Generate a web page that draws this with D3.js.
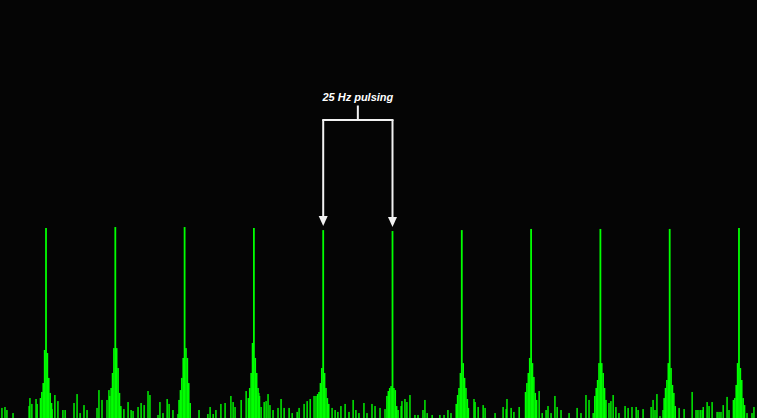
<!DOCTYPE html>
<html>
<head>
<meta charset="utf-8">
<script src="https://cdn.jsdelivr.net/npm/d3@7"></script>
<style>
  html, body { margin: 0; padding: 0; background: #050505; }
  svg { display: block; }
</style>
</head>
<body>
<div id="chart"></div>
<script>
// ---------------- DATA ----------------
// Frequency range shown (Hz)
const freqRange = [8.4, 281.5];
// Harmonics of the 25 Hz pulsing (Hz) and their relative amplitude (%)
const harmonicHz  = [25, 50, 75, 100, 125, 150, 175, 200, 225, 250, 275];
const harmonicAmp = [100, 100.5, 100.5, 100, 98.9, 98.4, 98.9, 99.5, 99.5, 99.5, 100];
// Side-band offsets around each harmonic (Hz) and their amplitudes (%)
const sidebandOffsetHz = [-2, -1.5, -1, -0.5, 0.5, 1, 1.5, 2];
const sidebandAmp = [
  [10.5, 13.7, 18.4, 35.8, 34.2, 21.1, 13.2, 7.9],
  [11.6, 15.8, 23.7, 36.8, 36.8, 26.3, 13.2, 6.3],
  [9.5, 14.7, 21.1, 31.6, 36.8, 31.6, 18.4, 7.9],
  [10.5, 15.8, 23.7, 39.5, 31.6, 23.7, 15.8, 11.6],
  [12.6, 13.7, 18.4, 26.3, 23.7, 15.8, 10.5, 7.4],
  [11.6, 14.2, 15.8, 16.8, 15.8, 14.7, 6.3, 4.2],
  [7.4, 12.1, 15.8, 23.7, 28.9, 21.1, 15.8, 10],
  [13.7, 18.4, 23.7, 31.6, 28.9, 21.6, 13.2, 9.5],
  [11.6, 15.8, 20, 28.9, 28.9, 23.7, 15.8, 9.5],
  [10.5, 15.8, 20, 28.9, 26.3, 17.4, 13.2, 6.3],
  [9.5, 10.5, 17.4, 28.9, 26.3, 20, 10.5, 6.8]
];
// Background noise floor components (Hz) and amplitudes (%)
const noiseHz = [
  9.1, 10.2, 10.9, 13.1, 18.9, 19.2, 19.9, 21.4, 21.8, 27.2, 28.2, 29.3, 31.1, 31.9,
  35.1, 36.2, 37.3, 38.7, 39.8, 43.4, 44.1, 45.2, 47.0, 47.7, 51.7, 53.1,
  54.6, 55.7, 56.4, 58.2, 59.3, 60.4, 61.8, 62.5, 65.4, 66.1, 67.2, 68.7, 69.4, 70.8, 72.6,
  80.2, 83.4, 84.2, 85.3, 86.3, 88.1, 89.6, 91.7, 92.5, 93.2, 95.4, 97.2, 98.2,
  101.8, 102.6, 103.7, 104.4, 105.1, 105.8, 106.9, 108.7, 109.8, 110.9, 112.7, 113.8,
  115.6, 116.3, 118.1, 119.2, 120.3, 121.7, 122.4, 128.2, 129.3, 130.3, 131.4, 132.9,
  134.3, 135.8, 136.8, 137.9, 139.7, 140.8, 142.6, 143.7,
  145.5, 147.3, 153.1, 153.4, 154.5, 155.2, 156.3, 158.1, 159.2, 161.0, 161.7, 162.5,
  164.3, 167.1, 168.6, 170.0, 171.1, 177.4, 179.4, 179.8, 180.9, 182.7, 183.4, 187.0, 189.9,
  191.0, 191.3, 192.8, 193.8, 195.7, 202.9, 204.0, 205.4, 206.1, 207.2, 208.6, 209.4,
  210.8, 213.7, 216.6, 218.0, 219.8, 220.9, 222.4, 228.1, 228.8, 229.6, 230.6, 231.7,
  233.9, 235.0, 236.4, 237.9, 238.6, 240.4, 243.3, 244.0, 244.7, 245.4, 246.5, 247.6,
  253.4, 255.2, 258.1, 259.5, 260.2, 261.0, 261.7, 262.1, 263.5, 264.2, 265.3, 267.1,
  267.8, 268.5, 269.3, 270.7, 271.4, 277.9, 279.7, 280.4
];
const noiseAmp = [
  5.3, 5.8, 4.2, 2.6, 6.3, 10.5, 7.4, 10, 7.4, 4.7, 12.1, 8.9, 4.2, 4.2,
  7.9, 12.6, 2.6, 6.8, 4.2, 5.3, 14.7, 9.5, 9.5, 14.7, 1.0, 4.7,
  8.4, 4.2, 3.7, 5.8, 7.9, 6.8, 14.2, 12.1, 1.6, 8.4, 2.6, 10, 7.4, 4.2, 2.1,
  4.2, 2.1, 5.8, 2.1, 4.2, 7.4, 7.9, 11.6, 8.4, 5.8, 9.5, 14.2, 7.4,
  13.2, 5.8, 8.4, 8.9, 12.6, 6.8, 4.2, 5.3, 10, 5.3, 5.3, 2.6,
  3.2, 5.3, 7.4, 8.9, 10, 11.6, 11.6, 5.3, 4.2, 3.2, 6.3, 7.4,
  3.2, 9.5, 4.2, 2.6, 7.9, 2.6, 7.4, 6.3,
  5.3, 4.7, 6.3, 8.9, 10, 8.4, 12.1, 1.6, 1.6, 4.2, 9.5, 2.6,
  1.6, 1.6, 1.6, 4.2, 2.6, 5.3, 10, 8.4, 5.8, 6.8, 5.3, 2.6, 5.8,
  4.7, 10, 5.3, 3.2, 5.8, 14.2, 2.6, 4.2, 6.3, 2.6, 11.6, 5.8,
  4.2, 2.6, 5.3, 2.6, 12.1, 9.5, 2.6, 7.9, 8.9, 12.1, 5.8, 2.6,
  6.3, 5.3, 5.8, 5.8, 4.2, 4.7, 5.8, 9.5, 4.2, 12.6, 1.0, 4.2,
  5.3, 4.7, 13.7, 4.2, 4.2, 4.2, 4.2, 5.8, 8.4, 6.3, 8.4, 3.2,
  3.2, 3.2, 6.8, 11.1, 4.2, 2.6, 2.6, 5.8
];
// Annotation
const annotationText = "25 Hz pulsing";
const annotatedHarmonics = [125, 150];

// ---------------- CHART ----------------
const W = 757, H = 418;
const svg = d3.select("#chart").append("svg")
  .attr("width", W).attr("height", H);

svg.append("rect").attr("width", W).attr("height", H).attr("fill", "#050505");

const x = d3.scaleLinear().domain(freqRange).range([0, W]);
const y = d3.scaleLinear().domain([0, 100]).range([H, 228]);

const green = "#00ff00";

// noise bars
const noise = noiseHz.map((f, i) => ({ f, a: noiseAmp[i] }));
svg.append("g").selectAll("rect").data(noise).join("rect")
  .attr("x", d => x(d.f) - 0.7)
  .attr("width", 1.4)
  .attr("y", d => y(d.a))
  .attr("height", d => y(0) - y(d.a))
  .attr("fill", green);

// side bands
const side = [];
harmonicHz.forEach((h, i) => {
  sidebandOffsetHz.forEach((o, j) => side.push({ f: h + o, a: sidebandAmp[i][j] }));
});
svg.append("g").selectAll("rect").data(side).join("rect")
  .attr("x", d => x(d.f) - 0.8)
  .attr("width", 1.6)
  .attr("y", d => y(d.a))
  .attr("height", d => y(0) - y(d.a))
  .attr("fill", green);

// harmonic peaks
const peaks = harmonicHz.map((f, i) => ({ f, a: harmonicAmp[i] }));
svg.append("g").selectAll("rect").data(peaks).join("rect")
  .attr("x", d => x(d.f) - 0.9)
  .attr("width", 1.8)
  .attr("y", d => y(d.a))
  .attr("height", d => y(0) - y(d.a))
  .attr("fill", green);

// annotation bracket with arrows
const xa = x(annotatedHarmonics[0]), xb = x(annotatedHarmonics[1]);
const ampA = harmonicAmp[harmonicHz.indexOf(annotatedHarmonics[0])];
const ampB = harmonicAmp[harmonicHz.indexOf(annotatedHarmonics[1])];
const xm = (xa + xb) / 2;
const barY = 120;
const lineCol = "#f2f2f2";
const ann = svg.append("g");

ann.append("path")
  .attr("d", `M${xm},105.5 L${xm},${barY} M${xa},${barY + 1} L${xa},${barY} L${xb},${barY} L${xb},${barY + 1}`)
  .attr("stroke", lineCol).attr("stroke-width", 2).attr("fill", "none");

[[xa, y(ampA) - 4], [xb, y(ampB) - 4]].forEach(([ax, tipY]) => {
  ann.append("line")
    .attr("x1", ax).attr("x2", ax)
    .attr("y1", barY).attr("y2", tipY - 8)
    .attr("stroke", lineCol).attr("stroke-width", 2);
  ann.append("path")
    .attr("d", `M${ax - 4.5},${tipY - 10} L${ax + 4.5},${tipY - 10} L${ax},${tipY} Z`)
    .attr("fill", lineCol);
});

ann.append("text")
  .attr("x", xm).attr("y", 100.5)
  .attr("text-anchor", "middle")
  .attr("fill", "#ffffff")
  .style("font-family", "'Liberation Sans', Arial, sans-serif")
  .style("font-size", "11px")
  .style("font-weight", "bold")
  .style("font-style", "italic")
  .text(annotationText);
</script>
</body>
</html>
